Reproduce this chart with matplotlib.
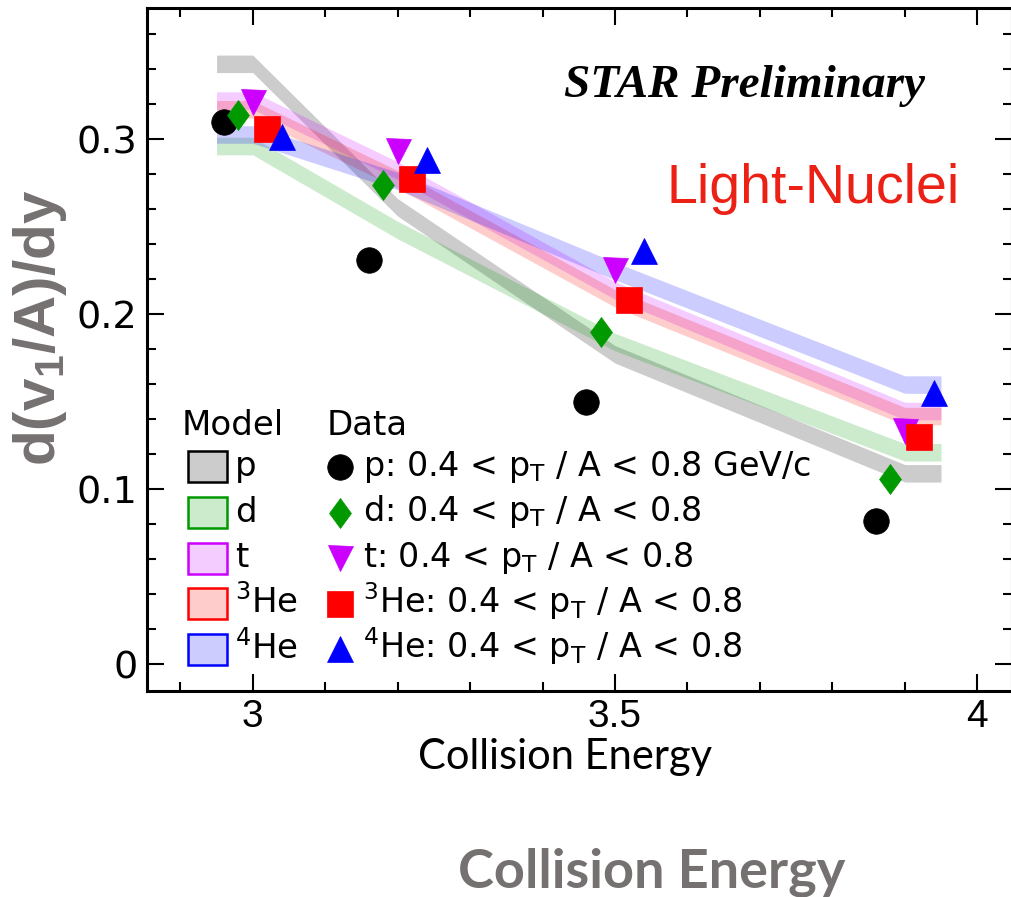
import numpy as np
import matplotlib
matplotlib.use('Agg')
import matplotlib.pyplot as plt
from matplotlib.patches import Rectangle
from matplotlib.path import Path
from matplotlib.ticker import MultipleLocator, FixedLocator

plt.rcParams['mathtext.fontset'] = 'custom'
plt.rcParams['mathtext.rm'] = 'DejaVu Sans'
plt.rcParams['mathtext.bf'] = 'Liberation Sans:bold'

# 碰撞能量 (GeV)
energies = [3.0, 3.2, 3.5, 3.9]

species = ['p', 'd', 't', '$^3$He', '$^4$He']
species_colors = ['#000000', '#009900', '#cc00ff', '#ff0000', '#0000ff']
x_shift = [-0.04, -0.02, 0.0, 0.02, 0.04]

# 数据点 d(v1/A)/dy
data_p = [0.310, 0.231, 0.150, 0.082]
data_d = [0.314, 0.274, 0.190, 0.106]
data_t = [0.321, 0.293, 0.225, 0.133]
data_he3 = [0.306, 0.277, 0.208, 0.130]
data_he4 = [0.301, 0.288, 0.236, 0.155]

# 模型计算 (带状)
model_p = [0.343, 0.261, 0.177, 0.109]
model_d = [0.296, 0.248, 0.184, 0.121]
model_t = [0.322, 0.282, 0.2135, 0.1446]
model_he3 = [0.317, 0.277, 0.209, 0.1417]
model_he4 = [0.3026, 0.276, 0.2246, 0.1597]

pt_cut = r' / A < 0.8'
data_labels = [
    r'p: 0.4 < p$_\mathrm{T}$' + pt_cut + ' GeV/c',
    r'd: 0.4 < p$_\mathrm{T}$' + pt_cut,
    r't: 0.4 < p$_\mathrm{T}$' + pt_cut,
    r'$^3$He: 0.4 < p$_\mathrm{T}$' + pt_cut,
    r'$^4$He: 0.4 < p$_\mathrm{T}$' + pt_cut,
]

# 细长菱形
thin_diamond = Path([(0, 1), (0.73, 0), (0, -1), (-0.73, 0), (0, 1)],
                    [Path.MOVETO, Path.LINETO, Path.LINETO, Path.LINETO, Path.CLOSEPOLY])
markers = ['o', thin_diamond, 'v', 's', '^']
marker_sizes = [18.4, 21.6, 18.0, 19.4, 18.4]

data_all = [data_p, data_d, data_t, data_he3, data_he4]
model_all = [model_p, model_d, model_t, model_he3, model_he4]

band_half = 0.005
band_pad = 0.05

W, H = 1011, 897
fig = plt.figure(figsize=(W / 100, H / 100), dpi=100)
ax = fig.add_axes([147 / W, 1 - 691 / H, 865 / W, 683 / H])

# 模型带
band_x = [energies[0] - band_pad] + energies + [energies[-1] + band_pad]
for vals, c in zip(model_all, species_colors):
    v = np.array([vals[0]] + vals + [vals[-1]])
    ax.fill_between(band_x, v - band_half, v + band_half, color=c, alpha=0.2, lw=0)

# 数据点
for vals, c, m, ms, dx in zip(data_all, species_colors, markers, marker_sizes, x_shift):
    ax.plot(np.array(energies) + dx, vals, ls='none', marker=m, ms=ms,
            color=c, mec=c, mew=0.5, zorder=5)

ax.set_xlim(2.854, 4.048)
ax.set_ylim(-0.0154, 0.3749)

ax.xaxis.set_major_locator(FixedLocator([3.0, 3.5, 4.0]))
ax.xaxis.set_minor_locator(MultipleLocator(0.1))
ax.yaxis.set_major_locator(MultipleLocator(0.1))
ax.yaxis.set_minor_locator(MultipleLocator(0.02))
ax.set_xticklabels(['3', '3.5', '4'])
ax.set_yticks([0, 0.1, 0.2, 0.3])
ax.set_yticklabels(['0', '0.1', '0.2', '0.3'])

ax.tick_params(which='both', direction='in', top=True, right=True, width=1.5)
ax.tick_params(which='major', length=12)
ax.tick_params(which='minor', length=6.5)
ax.tick_params(axis='x', which='major', pad=6, labelsize=28)
ax.tick_params(axis='y', which='major', pad=7, labelsize=27.5)
for lab in ax.get_xticklabels():
    lab.set_fontfamily('Liberation Sans')
for sp in ax.spines.values():
    sp.set_linewidth(2.2)

# 图例 (axes fraction)
def fx(px):
    return (px - 147) / 865


def fy(py):
    return (691 - py) / 683


legend_fs = 24.5
ax.text(fx(182), fy(435), 'Model', fontsize=legend_fs, va='baseline', transform=ax.transAxes)
ax.text(fx(327), fy(435), 'Data', fontsize=legend_fs, va='baseline', transform=ax.transAxes)
row0, row_step = 467, 45.5
for i, (name, c, m, ms, lab) in enumerate(zip(species, species_colors, markers, marker_sizes, data_labels)):
    yc = row0 + i * row_step
    ax.add_patch(Rectangle((fx(188), fy(yc + 15.5)), 39 / 865, 31 / 683, transform=ax.transAxes,
                           facecolor=c, alpha=0.2, lw=0, clip_on=False))
    ax.add_patch(Rectangle((fx(188), fy(yc + 15.5)), 39 / 865, 31 / 683, transform=ax.transAxes,
                           facecolor='none', edgecolor=c, lw=1.8, clip_on=False))
    ax.text(fx(235), fy(yc + 9), name, fontsize=legend_fs, va='baseline', transform=ax.transAxes)
    ax.plot([fx(340)], [fy(yc)], marker=m, ms=ms, color=c, mec=c, mew=0.5,
            transform=ax.transAxes, clip_on=False)
    ax.text(fx(363), fy(yc + 9), lab, fontsize=24, va='baseline', transform=ax.transAxes)

ax.text(fx(744), fy(86), 'STAR Preliminary', fontsize=34, fontfamily='Liberation Serif',
        fontweight='bold', fontstyle='italic', ha='center', va='center', transform=ax.transAxes)
ax.text(fx(813), fy(203), 'Light-Nuclei', fontsize=40, fontfamily='Liberation Sans',
        color='#ec2116', ha='center', va='baseline', transform=ax.transAxes)

# 坐标轴标题
fig.text(40 / W, 1 - 328 / H, r'd(v$_\mathbf{1}$/A)/dy', rotation=90, fontsize=42,
         fontfamily='Liberation Sans', fontweight='bold', color='#767171', ha='center', va='center')
fig.text(565 / W, 1 - 769 / H, 'Collision Energy', fontsize=30, fontfamily='Lato',
         ha='center', va='baseline')
fig.text(652 / W, 1 - 887 / H, 'Collision Energy', fontsize=39, fontfamily='Lato',
         fontweight='bold', color='#767171', ha='center', va='baseline')

fig.savefig('out.png', dpi=100, facecolor='white')
